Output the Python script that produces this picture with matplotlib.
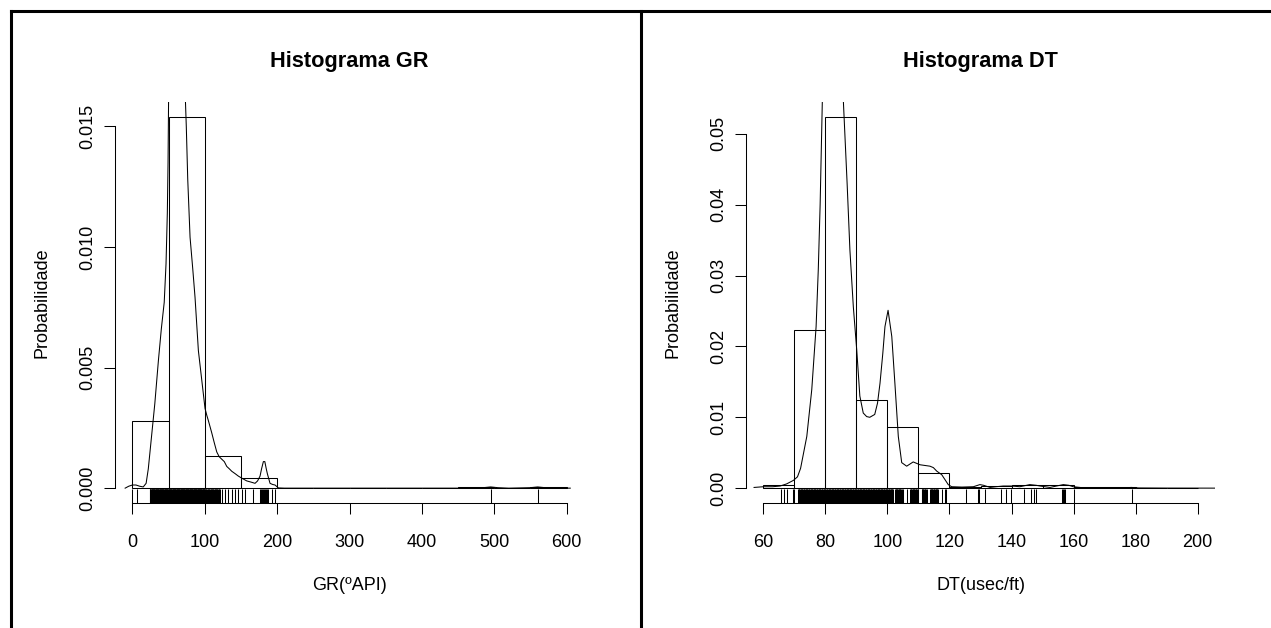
import numpy as np
import matplotlib
matplotlib.use("Agg")
import matplotlib.pyplot as plt
from matplotlib.lines import Line2D

plt.rcParams['font.family'] = ['Liberation Sans', 'DejaVu Sans']

# ---- GR panel ----
gr_breaks = [0, 50, 100, 150, 200, 250, 300, 350, 400, 450, 500, 550, 600]
gr_density_bars = [0.0028, 0.01539, 0.00134, 0.00044, 0, 0, 0, 0, 0, 0.00003, 0, 0.00003]

gr_kde_x = [-10, -5, 0, 5, 10, 15, 19, 22, 26, 31, 36, 40, 44, 46.5, 48.3, 49.3, 50,
            53, 60, 67, 72, 74.5, 76.5, 79.7, 83.4, 86.6, 91.2, 95.8, 100.4, 103, 105,
            109.6, 113, 116.6, 120, 123.5, 127, 130.4, 134, 137.3, 142, 146.4, 152, 158,
            164, 169.5, 173, 176.4, 178.5, 181, 183, 185, 186.5, 190.2, 194, 197.1,
            201.7, 210, 300, 400, 470, 485, 495, 505, 520, 550, 560, 570, 590, 605]
gr_kde_y = [0, 0.00008, 0.00013, 0.00013, 0.00008, 0.00005, 0.0002, 0.0008, 0.002,
            0.0035, 0.0053, 0.0066, 0.0077, 0.0093, 0.0114, 0.0135, 0.016,
            0.0185, 0.0198, 0.019, 0.0172, 0.015, 0.0128, 0.0104, 0.0091, 0.0079,
            0.0057, 0.0045, 0.0033, 0.003, 0.0028, 0.0023, 0.0019, 0.0015, 0.0013,
            0.0012, 0.0011, 0.0009, 0.0008, 0.0007, 0.0006, 0.0005, 0.0004, 0.0003,
            0.00025, 0.0002, 0.0003, 0.0005, 0.0008, 0.0011, 0.0011, 0.0008, 0.0006,
            0.0002, 0.00015, 0.00013, 0.00001, 0, 0, 0, 0, 0.00002, 0.00005, 0.00002,
            0, 0.00002, 0.00005, 0.00002, 0, 0]

gr_rug = [0, 6,
          24.0, 24.5, 25.0, 25.5, 26.0, 26.5, 27.0, 27.5, 28.0, 28.5, 29.0, 29.5, 30.0,
          30.5, 31.0, 31.5, 32.0, 32.5, 33.0, 33.5, 34.0, 34.5, 35.0, 35.5, 36.0, 36.5,
          37.0, 37.5, 38.0, 38.5, 39.0, 39.5, 40.0, 40.5, 41.0, 41.5, 42.0, 42.5, 43.0,
          43.5, 44.0, 44.5, 45.0, 45.5, 46.0, 46.5, 47.0, 47.5, 48.0, 48.5, 49.0, 49.5,
          50.0, 50.5, 51.0, 51.5, 52.0, 52.5, 53.0, 53.5, 54.0, 54.5, 55.0, 55.5, 56.0,
          56.5, 57.0, 57.5, 58.0, 58.5, 59.0, 59.5, 60.0, 60.5, 61.0, 61.5, 62.0, 62.5,
          63.0, 63.5, 64.0, 64.5, 65.0, 65.5, 66.0, 66.5, 67.0, 67.5, 68.0, 68.5, 69.0,
          69.5, 70.0, 70.5, 71.0, 71.5, 72.0, 72.5, 73.0, 73.5, 74.0, 74.5, 75.0, 75.5,
          76.0, 76.5, 77.0, 77.5, 78.0, 78.5, 79.0, 79.5, 80.0, 80.5, 81.0, 81.5, 82.0,
          82.5, 83.0, 83.5, 84.0, 84.5, 85.0, 85.5, 86.0, 86.5, 87.0, 87.5, 88.0, 88.5,
          89.0, 89.5, 90.0, 90.5, 91.0, 91.5, 92.0, 92.5, 93.0, 93.5, 94.0, 94.5, 95.0,
          95.5, 96.0, 96.5, 97.0, 97.5, 98.0, 98.5, 99.0, 99.5, 100.0, 100.8, 101.6,
          102.4, 103.2, 104.0, 104.8, 105.6, 106.4, 107.2, 108.0, 108.8, 109.6, 110.4,
          111.2, 112.0, 112.8, 113.6, 114.4, 115.2, 116.0, 116.8, 117.6, 118.4, 119.2,
          120.0, 121.0,
          124, 128, 132.5, 137, 142, 146.5, 151, 155.5, 166, 176, 177.5, 179, 180,
          181.5, 183, 184, 185.5, 187.5, 192.5, 197, 495, 561]

gr_xticks = [0, 100, 200, 300, 400, 500, 600]
gr_yticks = [0.0, 0.005, 0.010, 0.015]
gr_ylabels = ['0.000', '0.005', '0.010', '0.015']

# ---- DT panel ----
dt_breaks = [60, 70, 80, 90, 100, 110, 120, 130, 140, 150, 160, 170, 180, 190, 200]
dt_density_bars = [0.00038, 0.0223, 0.0524, 0.01245, 0.00869, 0.00207, 0.0002,
                   0.0003, 0.0004, 0.0004, 0.0001, 0.0001, 0, 0]

dt_kde_x = [57, 60, 63, 65.4, 67.5, 69.7, 71, 72, 74, 75.6, 77, 77.7, 78.3, 79, 80.5,
            83, 85, 85.8, 87, 87.9, 89, 90.1, 91.1, 92.2, 93.3, 94.3, 95.9, 96.8,
            97.6, 98.5, 99.2, 100.2, 101.4, 102.4, 103.5, 104.6, 106.2, 108.3, 110.5,
            113.7, 114.8, 115.9, 117.5, 119.6, 120.7, 124, 127.7, 129.8, 131, 133.1,
            135, 137.3, 140, 142.7, 145.9, 148, 149.2, 152.4, 154.5, 156.7, 158.5,
            159.9, 163.1, 170, 176, 178.7, 181, 190, 210]
dt_kde_y = [0.0001, 0.0002, 0.0002, 0.0003, 0.0006, 0.0011, 0.0016, 0.0028, 0.0073,
            0.0139, 0.0228, 0.0308, 0.04, 0.0545, 0.062, 0.065, 0.06, 0.0545, 0.043,
            0.0336, 0.0256, 0.0195, 0.013, 0.0106, 0.0101, 0.01, 0.0104, 0.012,
            0.0148, 0.019, 0.0228, 0.0251, 0.0214, 0.0148, 0.0073, 0.0036, 0.0031,
            0.0037, 0.0033, 0.0031, 0.0029, 0.0024, 0.0019, 0.0005, 0.0002, 0.00015,
            0.0002, 0.0005, 0.0004, 0.0001, 0.0002, 0.0003, 0.0003, 0.0002, 0.0005,
            0.0004, 0.0003, 0.0001, 0.0003, 0.0005, 0.0004, 0.0002, 0.00005, 0.00003,
            0.00005, 0.0001, 0.00003, 0.00001, 0]

dt_rug = [65.7, 66.8, 67.5, 69.5, 70.0,
          71.2, 71.4, 71.6, 71.8, 72.0, 72.2, 72.4, 72.6, 72.8, 73.0, 73.2, 73.4, 73.6,
          73.8, 74.0, 74.2, 74.4, 74.6, 74.8, 75.0, 75.2, 75.4, 75.6, 75.8, 76.0, 76.2,
          76.4, 76.6, 76.8, 77.0, 77.2, 77.4, 77.6, 77.8, 78.0, 78.2, 78.4, 78.6, 78.8,
          79.0, 79.2, 79.4, 79.6, 79.8, 80.0, 80.2, 80.4, 80.6, 80.8, 81.0, 81.2, 81.4,
          81.6, 81.8, 82.0, 82.2, 82.4, 82.6, 82.8, 83.0, 83.2, 83.4, 83.6, 83.8, 84.0,
          84.2, 84.4, 84.6, 84.8, 85.0, 85.2, 85.4, 85.6, 85.8, 86.0, 86.2, 86.4, 86.6,
          86.8, 87.0, 87.2, 87.4, 87.6, 87.8, 88.0, 88.2, 88.4, 88.6, 88.8, 89.0, 89.2,
          89.4, 89.6, 89.8, 90.0, 90.2, 90.4, 90.6, 90.8, 91.0, 91.2, 91.4, 91.6, 91.8,
          92.0, 92.2, 92.4, 92.6, 92.8, 93.0, 93.2, 93.4, 93.6, 93.8, 94.0, 94.2, 94.4,
          94.6, 94.8, 95.0, 95.2, 95.4, 95.6, 95.8, 96.0, 96.2, 96.4, 96.6, 96.8, 97.0,
          97.2, 97.4, 97.6, 97.8, 98.0, 98.2, 98.4, 98.6, 98.8, 99.0, 99.2, 99.4, 99.6,
          99.8, 100.0, 100.2, 100.4, 100.6, 100.8, 101.0, 101.2, 101.4, 101.6, 101.8,
          102.4, 102.6, 102.8, 103.0, 103.2, 103.4, 103.6, 103.8, 104.0, 104.2, 104.4,
          104.7, 105.1, 106.2, 107.3, 107.5, 107.7, 107.9, 108.1, 108.3, 108.5, 108.7,
          108.9, 109.1, 109.3, 109.5, 109.7, 110.0, 111.0, 111.2, 111.4, 111.6, 111.8,
          112.0, 112.2, 112.4, 112.7, 113.7, 113.9, 114.1, 114.3, 114.5, 114.7, 114.9,
          115.1, 115.3, 115.5, 115.7, 115.9, 116.1, 116.4, 117.5, 118.6,
          118.9, 125.4, 129.1, 129.6, 131.3, 136.5, 138.3, 139.9, 144.1, 146.4, 147.2,
          148.0, 156.2, 156.5, 156.8, 157.2, 160.1, 179.0]

dt_xticks = [60, 80, 100, 120, 140, 160, 180, 200]
dt_yticks = [0.0, 0.01, 0.02, 0.03, 0.04, 0.05]
dt_ylabels = ['0.00', '0.01', '0.02', '0.03', '0.04', '0.05']


def draw_panel(ax, breaks, bars, kde_x, kde_y, rug, xticks, yticks, ylabels, title, xlabel):
    lw = 0.75
    widths = np.diff(breaks)
    ax.bar(breaks[:-1], bars, width=widths, align='edge', fill=False,
           edgecolor='black', linewidth=lw)
    ax.plot(kde_x, kde_y, color='black', linewidth=lw)
    ax.vlines(rug, 0, 0.035, transform=ax.get_xaxis_transform(),
              colors='black', linewidth=lw, clip_on=False)

    # R style limits: 4% padding
    xr = breaks[-1] - breaks[0]
    ax.set_xlim(breaks[0] - 0.04 * xr, breaks[-1] + 0.04 * xr)
    ymax = max(bars)
    ax.set_ylim(-0.04 * ymax, 1.04 * ymax)

    for s in ['top', 'right']:
        ax.spines[s].set_visible(False)
    ax.spines['left'].set_linewidth(lw)
    ax.spines['bottom'].set_linewidth(lw)
    ax.spines['bottom'].set_bounds(xticks[0], xticks[-1])
    ax.spines['left'].set_bounds(yticks[0], yticks[-1])

    ax.set_xticks(xticks)
    ax.set_xticklabels([str(t) for t in xticks])
    ax.set_yticks(yticks)
    ax.set_yticklabels(ylabels, rotation=90, va='center')
    ax.tick_params(axis='x', length=8, width=lw, pad=14, labelsize=13)
    ax.tick_params(axis='y', length=8, width=lw, pad=5.5, labelsize=13)

    ax.set_title(title, fontsize=15.7, fontweight='bold', pad=25.4)
    ax.set_xlabel(xlabel, fontsize=13)
    ax.xaxis.set_label_coords(0.5, -0.2045)
    ax.xaxis.label.set_va('center')
    ax.set_ylabel('Probabilidade', fontsize=13)
    ax.yaxis.set_label_coords(-0.1557, 0.5)
    ax.yaxis.label.set_va('center')


fig = plt.figure(figsize=(12.71, 6.28), dpi=100)
ax1 = fig.add_axes([115 / 1271, 125 / 628, 469 / 1271, 401 / 628])
ax2 = fig.add_axes([746 / 1271, 125 / 628, 469 / 1271, 401 / 628])

draw_panel(ax1, gr_breaks, gr_density_bars, gr_kde_x, gr_kde_y, gr_rug,
           gr_xticks, gr_yticks, gr_ylabels, 'Histograma GR', 'GR(ºAPI)')
draw_panel(ax2, dt_breaks, dt_density_bars, dt_kde_x, dt_kde_y, dt_rug,
           dt_xticks, dt_yticks, dt_ylabels, 'Histograma DT', 'DT(usec/ft)')

# outer frame and divider
top = 1 - 11 / 628
fig.add_artist(Line2D([10.5 / 1271, 1], [top, top], transform=fig.transFigure,
                      color='black', linewidth=2.2))
fig.add_artist(Line2D([10.5 / 1271, 10.5 / 1271], [0, top], transform=fig.transFigure,
                      color='black', linewidth=2.2))
fig.add_artist(Line2D([641 / 1271, 641 / 1271], [0, top], transform=fig.transFigure,
                      color='black', linewidth=2.2))

fig.savefig('out.png', dpi=100)
